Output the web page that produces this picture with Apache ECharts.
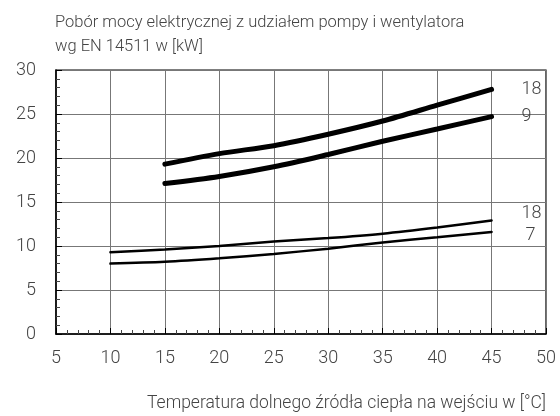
<!DOCTYPE html>
<html>
<head>
<meta charset="utf-8">
<script src="https://cdn.jsdelivr.net/npm/echarts@6/dist/echarts.min.js"></script>
<style>
  html, body { margin: 0; padding: 0; background: #fff; }
  #chart { width: 560px; height: 416px; }
</style>
</head>
<body>
<div id="chart"></div>
<script>
// temperatures at the source inlet [°C]
const temps = [10, 15, 20, 25, 30, 35, 40, 45]

// power consumption [kW]
const thick18 = [null, 19.3, 20.5, 21.4, 22.7, 24.2, 26.0, 27.8]
const thick9 = [null, 17.1, 17.9, 19.0, 20.4, 21.9, 23.3, 24.7]
const thin18 = [9.3, 9.6, 10.0, 10.5, 10.9, 11.4, 12.1, 12.9]
const thin7 = [8.0, 8.2, 8.6, 9.1, 9.7, 10.4, 11.0, 11.6]

const font = 'Roboto'
const txt = '#444'

function pairs(vals) {
    return temps.map((t, i) => [t, vals[i]]).filter(p => p[1] != null)
}

function line(name, vals, width, labelOffset) {
    return {
        name: name,
        type: 'line',
        data: pairs(vals),
        smooth: 0.3,
        symbol: 'none',
        lineStyle: { color: '#000', width: width, cap: 'round' },
        endLabel: {
            show: true,
            formatter: name,
            color: txt,
            fontFamily: font,
            fontWeight: 300,
            fontSize: 18,
            offset: labelOffset
        },
        z: 5
    }
}

let option = {
    animation: false,
    title: {
        text: 'Pobór mocy elektrycznej z udziałem pompy i wentylatora\nwg EN 14511 w [kW]',
        left: 50,
        top: 6,
        textStyle: {
            color: txt,
            fontFamily: font,
            fontWeight: 300,
            fontSize: 16.5,
            lineHeight: 24
        }
    },
    grid: {
        left: 56,
        right: 14,
        top: 70,
        bottom: 82,
        show: true,
        borderColor: '#000',
        borderWidth: 1.2
    },
    xAxis: {
        type: 'value',
        min: 5,
        max: 50,
        interval: 5,
        name: 'Temperatura dolnego źródła ciepła na wejściu w [°C]',
        nameLocation: 'end',
        nameGap: 0,
        nameTextStyle: {
            color: txt,
            fontFamily: font,
            fontWeight: 300,
            fontSize: 17.5,
            align: 'right',
            verticalAlign: 'top',
            padding: [61, 0, 0, 0]
        },
        axisLine: { lineStyle: { color: '#000', width: 1.5 } },
        axisTick: { inside: true, length: 6, lineStyle: { color: '#000' } },
        minorTick: { show: true, splitNumber: 5, length: 4, lineStyle: { color: '#444' } },
        axisLabel: { color: txt, fontFamily: font, fontWeight: 300, fontSize: 18, margin: 15 },
        splitLine: { lineStyle: { color: '#777', width: 1 } }
    },
    yAxis: {
        type: 'value',
        min: 0,
        max: 30,
        interval: 5,
        axisLine: { lineStyle: { color: '#000', width: 1.5 } },
        axisTick: { inside: true, length: 6, lineStyle: { color: '#000' } },
        minorTick: { show: true, splitNumber: 5, length: 4, lineStyle: { color: '#444' } },
        axisLabel: { color: txt, fontFamily: font, fontWeight: 300, fontSize: 18, margin: 20 },
        splitLine: { lineStyle: { color: '#777', width: 1 } }
    },
    series: [
        line('18', thick18, 5, [22, 0]),
        line('9', thick9, 5, [22, 0]),
        line('18', thin18, 2.5, [22, -7]),
        line('7', thin7, 2.5, [26, 4])
    ]
}

let chart = echarts.init(document.getElementById('chart'))
chart.setOption(option)
</script>
</body>
</html>
